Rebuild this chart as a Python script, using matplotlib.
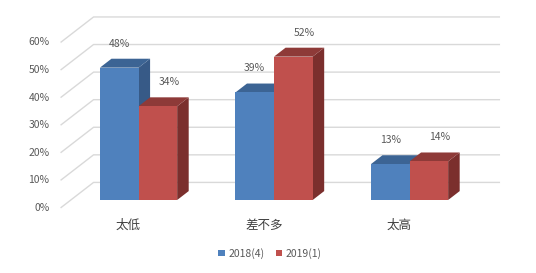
import matplotlib
matplotlib.use("Agg")
import matplotlib.pyplot as plt
from matplotlib.patches import Polygon, Patch

plt.rcParams['font.family'] = ['Noto Sans CJK SC', 'DejaVu Sans']

categories = ["太低", "差不多", "太高"]
series_names = ["2018(4)", "2019(1)"]
values_2018 = [48, 39, 13]
values_2019 = [34, 52, 14]
y_ticks = [0, 10, 20, 30, 40, 50, 60]
tick_labels = ["0%", "10%", "20%", "30%", "40%", "50%", "60%"]

# style / geometry
front_cols = ["#4F81BD", "#C0504D"]
top_cols = ["#3C6494", "#8E3A38"]
side_cols = ["#375A87", "#7B2F2D"]
txt = "#595959"
grid_c = "#D9D9D9"
DX, DY = 0.2435, 9.25      # depth offset (x in category units, y in %)
dA, dB = 0.31, 0.66        # bar depth range
w = 0.285                  # bar width

def P(x, y, d):
    return (x + d * DX, y + d * DY)

fig = plt.figure(figsize=(5.36, 2.73), dpi=100)
ax = fig.add_axes([0, 0, 1, 1])
ax.set_xlim(-0.947, 3.009)
ax.set_ylim(-23.6, 75.4)
ax.axis('off')

x_left, x_right = -0.5, len(categories) - 0.5
for t, lab in zip(y_ticks, tick_labels):
    a = P(x_left, t, 0); b = P(x_left, t, 1); c = P(x_right, t, 1)
    ax.plot([a[0], b[0], c[0]], [a[1], b[1], c[1]], color=grid_c, lw=1.0,
            solid_capstyle='butt', zorder=1)
    ax.annotate(lab, xy=a, xytext=(-8, 0), textcoords='offset points',
                ha='right', va='center', fontsize=7.5, color=txt)

series = [values_2018, values_2019]
label_dx = [0, 8]
for i in range(len(categories)):
    for s, vals in enumerate(series):
        v = vals[i]
        x0 = i - w + s * w
        x1 = x0 + w
        front = [P(x0, 0, dA), P(x1, 0, dA), P(x1, v, dA), P(x0, v, dA)]
        top = [P(x0, v, dA), P(x1, v, dA), P(x1, v, dB), P(x0, v, dB)]
        side = [P(x1, 0, dA), P(x1, 0, dB), P(x1, v, dB), P(x1, v, dA)]
        z = 2 + i * 2 + s
        ax.add_patch(Polygon(side, closed=True, fc=side_cols[s], ec='none', zorder=z))
        ax.add_patch(Polygon(top, closed=True, fc=top_cols[s], ec='none', zorder=z))
        ax.add_patch(Polygon(front, closed=True, fc=front_cols[s], ec='none', zorder=z))
        ax.annotate(f"{v}%", xy=P((x0 + x1) / 2, v, dA), xytext=(label_dx[s], 17.3),
                    textcoords='offset points', ha='center', va='center',
                    fontsize=7.5, color=txt, zorder=20)

for i, c in enumerate(categories):
    ax.annotate(c, xy=P(i, 0, 0), xytext=(0, -12.5), textcoords='offset points',
                ha='center', va='center', fontsize=9, color='#404040')

handles = [Patch(fc=front_cols[s], ec='none', label=series_names[s]) for s in range(2)]
leg = ax.legend(handles=handles, loc='center', bbox_to_anchor=(0.504, 0.0714),
                ncol=2, frameon=False, fontsize=7.5, handlelength=0.6,
                handleheight=0.6, handletextpad=0.35, columnspacing=1.1,
                borderpad=0, borderaxespad=0)
for t in leg.get_texts():
    t.set_color(txt)

fig.savefig("out.png", dpi=100, facecolor='white')
